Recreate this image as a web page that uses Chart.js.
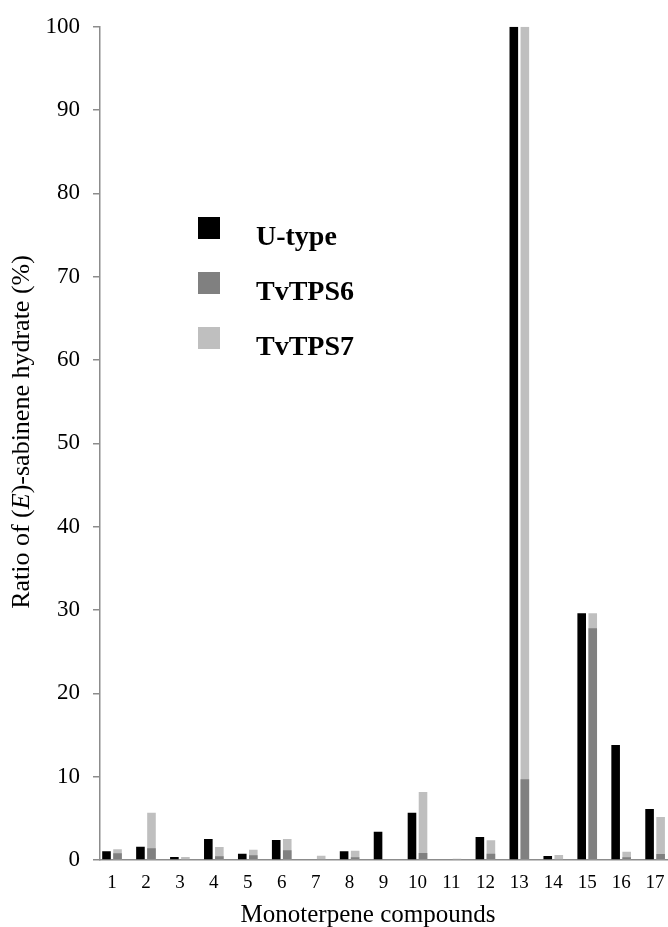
<!DOCTYPE html>
<html lang="en">
<head>
    <meta charset="UTF-8">
    <title>Monoterpene compounds</title>
    <script src="https://cdn.jsdelivr.net/npm/chart.js@4.4.1/dist/chart.umd.min.js"></script>
    <style>
        html, body { margin: 0; padding: 0; background: #fff; overflow: hidden; }
        #wrap { position: relative; width: 668px; height: 927px; }
    </style>
</head>
<body>
<div id="wrap">
    <canvas id="ratio-chart" width="668" height="927"></canvas>
</div>

<script>
    // Compound numbers on the x axis
    const categories = ['1', '2', '3', '4', '5', '6', '7', '8', '9', '10', '11', '12', '13', '14', '15', '16', '17'];

    // Ratio of (E)-sabinene hydrate (%) per compound
    const uType  = [1.04, 1.6, 0.36, 2.52, 0.76, 2.4, 0, 1.04, 3.4, 5.68, 0, 2.76, 100, 0.48, 29.6, 13.8, 6.12];
    const tvTPS6 = [0.8, 1.4, 0.1, 0.44, 0.56, 1.16, 0.05, 0.32, 0, 0.84, 0, 0.76, 9.7, 0.1, 27.8, 0.32, 0.72];
    const tvTPS7 = [1.28, 5.68, 0.36, 1.56, 1.24, 2.52, 0.52, 1.12, 0, 8.16, 0.16, 2.36, 100, 0.6, 29.6, 1.0, 5.16];

    const yTicks = [0, 10, 20, 30, 40, 50, 60, 70, 80, 90, 100];

    const seriesNames = ['U-type', 'TvTPS6', 'TvTPS7'];
    const seriesColors = ['#000000', '#808080', '#bfbfbf'];

    const serif = '"Liberation Serif", "Times New Roman", serif';
    const axisGray = '#8c8c8c';

    const toPoints = values => values.map((v, i) => ({ x: i + 1, y: v }));

    // Axis titles and the legend block drawn straight onto the canvas
    const annotations = {
        id: 'annotations',
        afterDraw(chart) {
            const ctx = chart.ctx;
            ctx.save();
            ctx.fillStyle = '#000';

            // y title, with the italic E
            ctx.translate(22, 432);
            ctx.rotate(-Math.PI / 2);
            ctx.textBaseline = 'middle';
            const parts = [
                ['Ratio of (', 'normal'],
                ['E', 'italic'],
                [')-sabinene hydrate (%)', 'normal']
            ];
            let total = 0;
            parts.forEach(([t, s]) => {
                ctx.font = s + ' 26px ' + serif;
                total += ctx.measureText(t).width;
            });
            let x = -total / 2;
            parts.forEach(([t, s]) => {
                ctx.font = s + ' 26px ' + serif;
                ctx.fillText(t, x, 0);
                x += ctx.measureText(t).width;
            });
            ctx.setTransform(1, 0, 0, 1, 0, 0);

            // x title
            ctx.font = '25px ' + serif;
            ctx.textAlign = 'center';
            ctx.textBaseline = 'alphabetic';
            ctx.fillText('Monoterpene compounds', 368, 922);

            // legend
            ctx.textAlign = 'left';
            ctx.font = 'bold 28px ' + serif;
            seriesNames.forEach((name, i) => {
                const top = 217 + i * 55;
                ctx.fillStyle = seriesColors[i];
                ctx.fillRect(198, top, 22, 22);
                ctx.fillStyle = '#000';
                ctx.fillText(name, 256, top + 28);
            });
            ctx.restore();
        }
    };

    new Chart(document.getElementById('ratio-chart'), {
        type: 'bar',
        data: {
            datasets: [
                { label: seriesNames[0], data: toPoints(uType), backgroundColor: seriesColors[0], stack: 'u' },
                { label: seriesNames[1], data: toPoints(tvTPS6), backgroundColor: seriesColors[1], stack: 'tv' },
                { label: seriesNames[2], data: toPoints(tvTPS7), backgroundColor: seriesColors[2], stack: 'tv' }
            ]
        },
        options: {
            responsive: false,
            animation: false,
            layout: { padding: { top: 25, right: 0, left: 0, bottom: 0 } },
            datasets: {
                bar: { categoryPercentage: 0.65, barPercentage: 0.78, borderWidth: 0 }
            },
            plugins: {
                legend: { display: false },
                tooltip: { enabled: false }
            },
            scales: {
                x: {
                    type: 'linear',
                    stacked: true,
                    offset: false,
                    min: 0.646,
                    max: 17.38,
                    afterBuildTicks: scale => {
                        scale.ticks = categories.map((c, i) => ({ value: i + 1 }));
                    },
                    afterFit: scale => {
                        scale.height = 67;
                        scale.paddingRight = 0;
                        scale.paddingLeft = 0;
                    },
                    ticks: {
                        autoSkip: false,
                        maxRotation: 0,
                        padding: 12,
                        color: '#000',
                        font: { family: serif, size: 19 },
                        callback: (value, index) => categories[index]
                    },
                    grid: { display: false, drawTicks: false, offset: false },
                    border: { display: true, color: axisGray, width: 1.5 }
                },
                y: {
                    stacked: false,
                    min: 0,
                    max: 100,
                    afterBuildTicks: scale => {
                        scale.ticks = yTicks.map(v => ({ value: v }));
                    },
                    afterFit: scale => { scale.width = 100; },
                    ticks: {
                        padding: 13,
                        color: '#000',
                        font: { family: serif, size: 23 }
                    },
                    grid: { drawOnChartArea: false, drawTicks: true, tickLength: 7, color: axisGray, lineWidth: 1.5 },
                    border: { display: true, color: axisGray, width: 1.5 }
                }
            }
        },
        plugins: [annotations]
    });
</script>
</body>
</html>
